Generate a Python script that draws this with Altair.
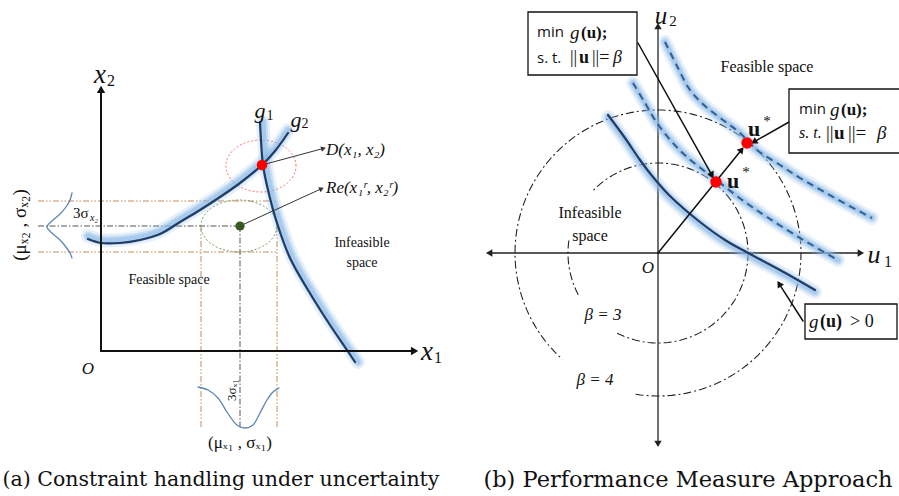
import altair as alt
import numpy as np
import pandas as pd

W, H = 899, 496

# ---------------- panel (a): constraint handling under uncertainty ----------------
a_origin = (101, 351)
a_x2_top = 87
a_x1_end = 417
g1_x = [260, 261, 263, 268, 277, 290, 308, 330, 347, 355]
g1_y = [122, 140, 165, 190, 223, 258, 290, 325, 350, 362]
g2_x = [88, 101, 120, 140, 160, 180, 200, 220, 240, 262, 275, 288]
g2_y = [239, 243, 243, 240, 234, 222, 210, 197, 183, 165, 151, 133]
gauss_x2_x = [72, 70, 66, 60, 52, 47, 52, 60, 66, 70, 72]
gauss_x2_y = [193, 200, 207, 214, 221, 227, 233, 240, 247, 253, 258]
gauss_x1_x = [198, 208, 218, 227, 237, 245, 253, 260, 267, 273, 279]
gauss_x1_y = [387, 390, 398, 412, 425, 428, 425, 413, 400, 392, 388]
design_pt = (262, 165)
reliable_pt = (240, 226)
design_ellipse = (261, 166, 35, 26)
reliable_ellipse = (239, 226, 38, 26)
# dash-dot guide lines (x0, y0, x1, y1)
guides_brown = [(38, 201, 277, 201), (38, 252, 277, 252), (201, 226, 201, 428), (277, 226, 277, 428)]
guides_mean = [(38, 226, 240, 226), (240, 226, 240, 428)]
a_arrows = [(262, 165, 325, 148), (240, 226, 323, 188)]

# ---------------- panel (b): performance measure approach ----------------
b_origin = (658, 253)
b_u1 = (487, 863)
b_u2 = (24, 446)
beta_radius = {3: 90, 4: 143}
beta_arcs = {3: [(-117, 136), (172, 209)], 4: [(-99, 228)]}
gsolid_x = [608, 625, 640, 653, 670, 700, 725, 750, 780, 815]
gsolid_y = [115, 138, 160, 177, 196, 222, 240, 254, 270, 290]
gmid_x = [633, 645, 657, 672, 687, 707, 720, 745, 767, 800, 838]
gmid_y = [83, 103, 123, 142, 157, 173, 183, 202, 217, 238, 260]
gtop_x = [665, 677, 690, 705, 723, 740, 757, 780, 800, 835, 872]
gtop_y = [42, 66, 90, 106, 120, 133, 150, 165, 178, 198, 218]
u_star_low = (716, 182)
u_star_high = (747, 143)
b_arrows = [(658, 253, 743, 148), (638, 43, 713, 177), (789, 122, 752, 143), (803, 321, 778, 282)]
boxes = [(528, 12, 637, 75), (789, 89, 905, 153), (805, 304, 897, 339)]

SERIF = "Liberation Serif, Times New Roman, serif"
SANS = "Open Sans, Noto Sans, sans-serif"
CAP = "DejaVu Serif, serif"
# x, y, text, size, angle, font, style, weight, align
labels = [
    (100, 75, "x", 27, 0, SERIF, "italic", "normal", "center"),
    (111, 81, "2", 16, 0, SERIF, "normal", "normal", "center"),
    (427, 352, "x", 27, 0, SERIF, "italic", "normal", "center"),
    (438, 358, "1", 16, 0, SERIF, "normal", "normal", "center"),
    (88, 369, "O", 17, 0, SERIF, "italic", "normal", "center"),
    (260, 111, "g", 22, 0, SERIF, "italic", "normal", "center"),
    (270, 116, "1", 14, 0, SERIF, "normal", "normal", "center"),
    (296, 120, "g", 22, 0, SERIF, "italic", "normal", "center"),
    (305, 124, "2", 14, 0, SERIF, "normal", "normal", "center"),
    (326, 150, "D(x₁, x₂)", 17, 0, SERIF, "italic", "normal", "left"),
    (326, 188, "Re(x₁ʳ, x₂ʳ)", 17, 0, SERIF, "italic", "normal", "left"),
    (169, 280, "Feasible space", 14, 0, SERIF, "normal", "normal", "center"),
    (362, 243, "Infeasible", 14, 0, SERIF, "normal", "normal", "center"),
    (362, 263, "space", 14, 0, SERIF, "normal", "normal", "center"),
    (73, 213, "3σ", 15, 0, SERIF, "normal", "normal", "left"),
    (90, 218, "x₂", 10, 0, SERIF, "italic", "normal", "left"),
    (20, 225, "(μₓ₂ , σₓ₂)", 19, 270, SERIF, "normal", "normal", "center"),
    (232, 390, "3σₓ₁", 13, 270, SERIF, "normal", "normal", "center"),
    (240, 443, "(μₓ₁ , σₓ₁)", 17, 0, SERIF, "normal", "normal", "center"),
    (221, 480, "(a) Constraint handling under uncertainty", 20.5, 0, CAP, "normal", "normal", "center"),
    (688, 480, "(b) Performance Measure Approach", 22.5, 0, CAP, "normal", "normal", "center"),
    (661, 16, "u", 25, 0, SERIF, "italic", "normal", "center"),
    (673, 21, "2", 15, 0, SERIF, "normal", "normal", "center"),
    (874, 255, "u", 26, 0, SERIF, "italic", "normal", "center"),
    (888, 262, "1", 16, 0, SERIF, "normal", "normal", "center"),
    (648, 268, "O", 17, 0, SERIF, "italic", "normal", "center"),
    (590, 213, "Infeasible", 16, 0, SERIF, "normal", "normal", "center"),
    (590, 236, "space", 16, 0, SERIF, "normal", "normal", "center"),
    (767, 67, "Feasible space", 16, 0, SERIF, "normal", "normal", "center"),
    (603, 315, "β = 3", 17, 0, SERIF, "italic", "normal", "center"),
    (595, 380, "β = 4", 17, 0, SERIF, "italic", "normal", "center"),
    (733, 181, "u", 22, 0, SERIF, "normal", "bold", "center"),
    (746, 172, "*", 15, 0, SERIF, "normal", "normal", "center"),
    (754, 129, "u", 22, 0, SERIF, "normal", "bold", "center"),
    (767, 121, "*", 15, 0, SERIF, "normal", "normal", "center"),
    (537, 32, "min", 15, 0, SANS, "normal", "normal", "left"),
    (570, 33, "g", 19, 0, SERIF, "italic", "normal", "left"),
    (581, 33, "(u);", 17, 0, SERIF, "normal", "bold", "left"),
    (537, 58, "s. t.", 15, 0, SANS, "normal", "normal", "left"),
    (570, 58, "||", 18, 0, SERIF, "normal", "normal", "left"),
    (579, 58, "u", 18, 0, SERIF, "normal", "bold", "left"),
    (592, 58, "||=", 18, 0, SERIF, "normal", "normal", "left"),
    (613, 58, "β", 18, 0, SERIF, "italic", "normal", "left"),
    (799, 109, "min", 15, 0, SANS, "normal", "normal", "left"),
    (830, 110, "g", 19, 0, SERIF, "italic", "normal", "left"),
    (841, 110, "(u);", 17, 0, SERIF, "normal", "bold", "left"),
    (799, 133, "s. t.", 16, 0, SERIF, "italic", "normal", "left"),
    (826, 133, "||", 19, 0, SERIF, "normal", "normal", "left"),
    (834, 133, "u", 19, 0, SERIF, "normal", "bold", "left"),
    (848, 133, "||=", 19, 0, SERIF, "normal", "normal", "left"),
    (877, 133, "β", 19, 0, SERIF, "italic", "normal", "left"),
    (809, 322, "g", 19, 0, SERIF, "italic", "normal", "left"),
    (820, 322, "(u)", 18, 0, SERIF, "normal", "bold", "left"),
    (850, 322, "> 0", 18, 0, SERIF, "normal", "normal", "left"),
]

# ---------------- drawing helpers ----------------
X = alt.X("x:Q", scale=alt.Scale(domain=[0, W], nice=False, zero=False), axis=None)
Y = alt.Y("y:Q", scale=alt.Scale(domain=[H, 0], nice=False, zero=False), axis=None)
layers = []

NAVY = "#1f3d66"
DASHBLUE = "#2f5f94"
GLOW = "#8ab8e6"
BROWN = "#c58a5c"
GAUSS = "#5b86b8"
DASHDOT = [8, 3, 2, 3]


def add_line(xs, ys, color, width, dash=None, opacity=1.0, interp="linear", xo=0, yo=0):
    df = pd.DataFrame({"x": list(xs), "y": list(ys), "o": np.arange(len(xs))})
    props = dict(color=color, strokeWidth=width, opacity=opacity, interpolate=interp,
                 strokeCap="round", strokeJoin="round")
    if dash:
        props["strokeDash"] = dash
        props["strokeCap"] = "butt"
    if xo:
        props["xOffset"] = xo
    if yo:
        props["yOffset"] = yo
    layers.append(alt.Chart(df).mark_line(**props).encode(x=X, y=Y, order="o:Q"))


def add_glow(xs, ys, xo=0, yo=0):
    add_line(xs, ys, GLOW, 14, opacity=0.2, interp="catmull-rom", xo=xo, yo=yo)
    add_line(xs, ys, GLOW, 9, opacity=0.35, interp="catmull-rom", xo=xo, yo=yo)
    add_line(xs, ys, GLOW, 5, opacity=0.5, interp="catmull-rom", xo=xo, yo=yo)


def add_arrow(x0, y0, x1, y1, color, width, head):
    dx, dy = x1 - x0, y1 - y0
    L = float(np.hypot(dx, dy))
    ux, uy = dx / L, dy / L
    r = np.sqrt(head) / 2
    h = np.sqrt(3) * r / 2
    add_line([x0, x1 - ux * 1.5 * h], [y0, y1 - uy * 1.5 * h], color, width)
    ang = float(np.degrees(np.arctan2(ux, -uy)) % 360)
    df = pd.DataFrame({"x": [x1 - ux * h], "y": [y1 - uy * h], "a": [ang]})
    layers.append(alt.Chart(df).mark_point(shape="triangle", filled=True, color=color, opacity=1,
                                           size=head, strokeWidth=0)
                  .encode(x=X, y=Y, angle=alt.Angle("a:Q", scale=None)))


def arc(cx, cy, rx, ry, a0, a1, n=160):
    t = np.radians(np.linspace(a0, a1, n))
    return cx + rx * np.cos(t), cy - ry * np.sin(t)


def add_dot(x, y, color, size):
    df = pd.DataFrame({"x": [x], "y": [y]})
    layers.append(alt.Chart(df).mark_circle(color=color, size=size, opacity=1).encode(x=X, y=Y))


# ---------------- panel (a) ----------------
for (x0, y0, x1, y1) in guides_brown:
    add_line([x0, x1], [y0, y1], BROWN, 1, dash=[6, 2, 1.5, 2, 1.5, 2])
for (x0, y0, x1, y1) in guides_mean:
    add_line([x0, x1], [y0, y1], "#555555", 1, dash=[6, 2, 1.5, 2])

ex, ey = arc(*design_ellipse, 0, 360)
add_line(ex, ey, "#ff6b6b", 1, dash=[2, 2])
ex, ey = arc(*reliable_ellipse, 0, 360)
add_line(ex, ey, "#6f9a55", 1, dash=[2, 2])

add_line(gauss_x2_x, gauss_x2_y, GAUSS, 1.3, interp="catmull-rom")
add_line(gauss_x1_x, gauss_x1_y, GAUSS, 1.3, interp="catmull-rom")

add_glow(g2_x, g2_y, yo=-3)
add_glow(g1_x, g1_y, xo=3)
add_line(g2_x, g2_y, NAVY, 2.2, interp="catmull-rom")
add_line(g1_x, g1_y, NAVY, 2.2, interp="catmull-rom")

add_arrow(a_origin[0], a_origin[1], a_origin[0], a_x2_top, "#111111", 2, 70)
add_arrow(a_origin[0], a_origin[1], a_x1_end, a_origin[1], "#111111", 2, 70)
for (x0, y0, x1, y1) in a_arrows:
    add_arrow(x0, y0, x1, y1, "#333333", 1, 30)

add_dot(*reliable_pt, "#385723", 85)
add_dot(*design_pt, "#ff0000", 110)

# ---------------- panel (b) ----------------
add_arrow(b_origin[0], b_origin[1], b_u1[1], b_origin[1], "#222222", 1.3, 55)
add_arrow(b_origin[0], b_origin[1], b_u1[0], b_origin[1], "#222222", 1.3, 55)
add_arrow(b_origin[0], b_origin[1], b_origin[0], b_u2[0], "#222222", 1.3, 55)
add_arrow(b_origin[0], b_origin[1], b_origin[0], b_u2[1], "#222222", 1.3, 55)

for beta, r in beta_radius.items():
    for (a0, a1) in beta_arcs[beta]:
        cx_, cy_ = arc(b_origin[0], b_origin[1], r, r, a0, a1)
        add_line(cx_, cy_, "#222222", 1.1, dash=DASHDOT)

add_glow(gtop_x, gtop_y)
add_glow(gmid_x, gmid_y)
add_glow(gsolid_x, gsolid_y, yo=2)
add_line(gtop_x, gtop_y, DASHBLUE, 2, dash=[7, 5], interp="catmull-rom")
add_line(gmid_x, gmid_y, DASHBLUE, 2, dash=[7, 5], interp="catmull-rom")
add_line(gsolid_x, gsolid_y, NAVY, 2.2, interp="catmull-rom")

for (x0, y0, x1, y1) in b_arrows:
    add_arrow(x0, y0, x1, y1, "#111111", 1.5, 55)

add_dot(*u_star_low, "#ff0000", 130)
add_dot(*u_star_high, "#ff0000", 130)

box_df = pd.DataFrame(boxes, columns=["x", "y", "x2", "y2"])
layers.append(alt.Chart(box_df).mark_rect(fill="white", stroke="#111111", strokeWidth=1.3)
              .encode(x=X, y=Y, x2="x2:Q", y2="y2:Q"))

# ---------------- text ----------------
lab = pd.DataFrame(labels, columns=["x", "y", "t", "s", "a", "font", "style", "weight", "align"])
for (font, style, weight, align), grp in lab.groupby(["font", "style", "weight", "align"]):
    layers.append(
        alt.Chart(grp[["x", "y", "t", "s", "a"]]).mark_text(
            font=font, fontStyle=style, fontWeight=weight, align=align, baseline="middle", color="#111111"
        ).encode(x=X, y=Y, text="t:N", size=alt.Size("s:Q", scale=None), angle=alt.Angle("a:Q", scale=None))
    )

chart = alt.layer(*layers).properties(
    width=W, height=H, padding=0, autosize=alt.AutoSizeParams(type="none"), background="white"
).configure_view(stroke=None)

chart.save("out.html", embed_options={"renderer": "svg", "actions": False})
